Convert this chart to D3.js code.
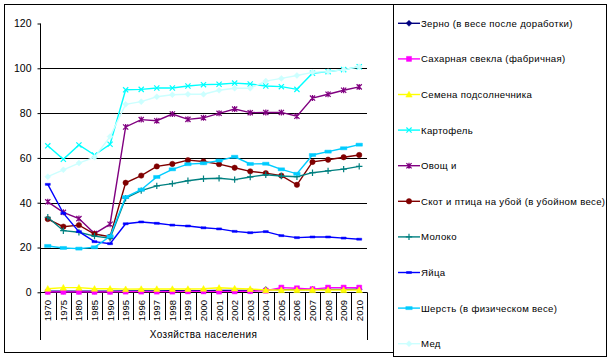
<!DOCTYPE html>
<html><head><meta charset="utf-8">
<script src="https://cdn.jsdelivr.net/npm/d3@7"></script>
<style>
html,body{margin:0;padding:0;background:#fff;}
svg{display:block;font-family:Arial,"Liberation Sans",sans-serif;}
</style></head>
<body><svg id="c" width="612" height="358"></svg>
<script>
const years = ["1970","1975","1980","1985","1990","1995","1996","1997","1998","1999","2000","2001","2002","2003","2004","2005","2006","2007","2008","2009","2010"];
const yTicks = [0,20,40,60,80,100,120];
const groupLabel = "Хозяйства населения";
const seriesNames = ["Зерно (в весе после доработки)","Сахарная свекла (фабричная)","Семена подсолнечника","Картофель","Овощ и","Скот и птица на убой (в убойном весе)","Молоко","Яйца","Шерсть (в физическом весе)","Мед"];
const zerno    = [0.5,0.5,0.5,0.5,0.5,0.6,0.6,0.6,0.7,0.7,0.7,0.8,0.8,0.8,1.2,1.2,1.2,1.3,1.3,1.3,1.4];
const svekla   = [0.2,0.2,0.2,0.2,0.2,0.3,0.3,0.3,0.3,0.4,0.4,0.3,0.4,0.5,0.7,2.1,1.8,1.4,2.1,2.1,2.1];
const semena   = [1.6,2.1,2.1,1.6,1.6,1.4,1.5,1.5,1.5,1.5,1.6,2.0,1.7,1.5,1.0,1.0,1.0,1.0,1.0,1.0,1.0];
const kartofel = [65.4,59.4,65.8,61.3,66.1,90.4,90.6,91.2,91.2,92.1,92.7,92.9,93.4,93.0,92.1,91.8,90.6,97.8,98.5,99.4,100.7];
const ovoshi   = [40.4,35.7,32.9,26.2,30.4,73.8,77.1,76.6,79.6,77.2,77.9,79.9,81.8,80.2,80.3,80.3,78.6,86.7,88.4,90.2,91.7];
const skot     = [32.7,29.3,30.0,26.0,24.8,48.9,52.1,56.2,57.3,59.0,58.4,57.2,55.6,54.0,53.2,52.1,48.0,58.2,59.2,60.3,61.3];
const moloko   = [33.5,27.5,26.8,25.1,24.1,42.0,45.4,47.5,48.5,49.8,50.7,50.9,50.3,51.5,52.5,51.9,51.6,53.4,54.2,55.0,56.2];
const yaica    = [48.2,35.3,27.1,22.6,21.7,30.6,31.4,30.8,30.0,29.6,28.8,28.3,27.2,26.6,27.1,25.3,24.4,24.7,24.7,24.2,23.7];
const sherst   = [20.7,19.8,19.5,20.1,25.0,42.5,45.8,51.5,54.9,57.2,57.6,58.8,60.5,57.3,57.4,54.9,52.9,61.3,62.8,64.3,65.9];
const med      = [51.6,54.7,57.7,60.3,69.5,83.9,85.1,87.3,88.2,88.4,88.4,90.2,91.1,91.1,94.3,95.5,96.8,98.2,98.5,99.4,100.7];
const seriesValues = [zerno,svekla,semena,kartofel,ovoshi,skot,moloko,yaica,sherst,med];
const colors = ["#000080","#FF00FF","#FFFF00","#00FFFF","#800080","#800000","#008080","#0000FF","#00CCFF","#CCFFFF"];
const markers = ["diamond","square","triangle","x","star","circle","plus","dash","longdash","diamond"];

const svg = d3.select("#c");
const L = 40, R = 367, T = 23.5, B = 292.3;
const x = d3.scaleBand().domain(years).range([L, R]).padding(0);
const y = d3.scaleLinear().domain([0,120]).range([B, T]);
const cx = d => x(d) + x.bandwidth()/2;

svg.append("rect").attr("x",4.5).attr("y",4.5).attr("width",602).attr("height",348).attr("fill","#fff").attr("stroke","#000");

svg.append("g").selectAll("line").data(yTicks.filter(t=>t>0 && t<120)).join("line")
  .attr("x1",L).attr("x2",R).attr("y1",d=>Math.round(y(d))+0.5).attr("y2",d=>Math.round(y(d))+0.5)
  .attr("stroke","#000").attr("stroke-width",1);

const yAxis = d3.axisLeft(y).tickValues(yTicks).tickSize(3).tickPadding(6);
const ga = svg.append("g").attr("transform",`translate(${L+0.5},0)`).call(yAxis);
ga.select(".domain").remove();
ga.selectAll(".tick line").attr("stroke","#000");
ga.selectAll(".tick text").attr("font-size",10.5).attr("fill","#000").attr("font-family","Arial,'Liberation Sans',sans-serif");
svg.append("line").attr("x1",L+0.5).attr("x2",L+0.5).attr("y1",T).attr("y2",340).attr("stroke","#000");
svg.append("line").attr("x1",R+0.5).attr("x2",R+0.5).attr("y1",B).attr("y2",340).attr("stroke","#000");
svg.append("line").attr("x1",L).attr("x2",R).attr("y1",Math.round(B)+0.5).attr("y2",Math.round(B)+0.5).attr("stroke","#000");
svg.append("g").selectAll("line").data(years.slice(1)).join("line")
  .attr("x1",d=>Math.round(x(d))+0.5).attr("x2",d=>Math.round(x(d))+0.5)
  .attr("y1",B).attr("y2",320).attr("stroke","#000");
svg.append("g").selectAll("text").data(years).join("text")
  .attr("transform",d=>`translate(${cx(d)+3.5},300) rotate(-90)`)
  .attr("text-anchor","end").attr("font-size",9.5).attr("fill","#000").text(d=>d);
svg.append("text").attr("x",(L+R)/2).attr("y",338).attr("text-anchor","middle")
  .attr("font-size",10).attr("letter-spacing",0.4).text(groupLabel);

function markerPath(type){
  switch(type){
    case "diamond": return "M0,-3L3,0L0,3L-3,0Z";
    case "square": return "M-2.5,-2.5H2.5V2.5H-2.5Z";
    case "triangle": return "M0,-3.2L3.2,2.6H-3.2Z";
    case "x": return "M-2.6,-2.6L2.6,2.6M-2.6,2.6L2.6,-2.6";
    case "star": return "M-2.6,-2.6L2.6,2.6M-2.6,2.6L2.6,-2.6M0,-3V3";
    case "circle": return "M-2.7,0A2.7,2.7 0 1,0 2.7,0A2.7,2.7 0 1,0 -2.7,0Z";
    case "plus": return "M-3.2,0H3.2M0,-3.2V3.2";
    case "dash": return "M-2.5,-1H2.5V1H-2.5Z";
    case "longdash": return "M-3.2,-1.5H3.2V1.5H-3.2Z";
  }
}
const stroked = t => t==="x"||t==="star"||t==="plus";

const line = d3.line().x((d,i)=>cx(years[i])).y(d=>y(d));
seriesValues.forEach((vals,si)=>{
  const g = svg.append("g");
  g.append("path").datum(vals).attr("d",line).attr("fill","none")
    .attr("stroke",colors[si]).attr("stroke-width",1.4);
  g.selectAll("path.m").data(vals).join("path").attr("class","m")
    .attr("transform",(d,i)=>`translate(${cx(years[i])},${y(d)})`)
    .attr("d",markerPath(markers[si]))
    .attr("fill",stroked(markers[si])?"none":colors[si])
    .attr("stroke",colors[si]).attr("stroke-width",stroked(markers[si])?1.2:0.5);
});

svg.append("rect").attr("x",393.5).attr("y",4.5).attr("width",213).attr("height",352).attr("fill","#fff").attr("stroke","#000");
const lg = svg.append("g");
seriesNames.forEach((name,i)=>{
  const ly = 23.3 + i*35.6;
  lg.append("line").attr("x1",398).attr("x2",420).attr("y1",ly).attr("y2",ly).attr("stroke",colors[i]).attr("stroke-width",1.4);
  lg.append("path").attr("transform",`translate(409,${ly})`).attr("d",markerPath(markers[i]))
    .attr("fill",stroked(markers[i])?"none":colors[i]).attr("stroke",colors[i]).attr("stroke-width",stroked(markers[i])?1.2:0.5);
  lg.append("text").attr("x",421).attr("y",ly+3.5).attr("font-size",9.6).attr("letter-spacing",0.32).attr("fill","#000").text(name);
});
</script></body></html>
